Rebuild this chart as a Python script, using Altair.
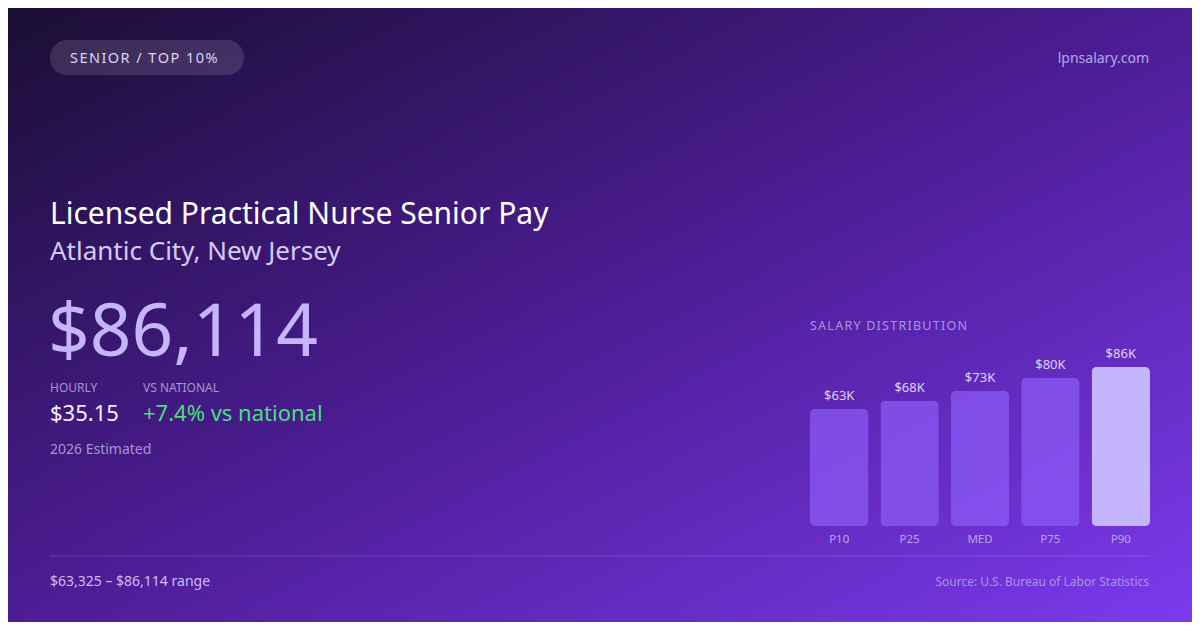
import altair as alt
import pandas as pd

# ---- data ----
labels = ["P10", "P25", "MED", "P75", "P90"]
salaries = [63325, 67800, 73100, 80100, 86114]
value_text = ["$63K", "$68K", "$73K", "$80K", "$86K"]

badge = "SENIOR / TOP 10%"
site = "lpnsalary.com"
title = "Licensed Practical Nurse Senior Pay"
subtitle = "Atlantic City, New Jersey"
headline = "$86,114"
hourly_label = "HOURLY"
hourly_value = "$35.15"
nat_label = "VS NATIONAL"
nat_value = "+7.4% vs national"
estimate = "2026 Estimated"
dist_title = "SALARY DISTRIBUTION"
range_text = "$63,325 \u2013 $86,114 range"
source_text = "Source: U.S. Bureau of Labor Statistics"

df = pd.DataFrame({"label": labels, "salary": salaries, "vt": value_text})
one = pd.DataFrame({"a": [0]})

W, H = 1184, 614
OFF = 8
FONT = "Noto Sans"
HS = "\u200a"


def X(v):
    return v - OFF


def Y(v):
    return v - OFF


def spaced(s):
    return HS.join(list(s))


def txt(s, x, y, size, color, align="left", weight="normal", opacity=1.0):
    return alt.Chart(one).mark_text(
        text=s, align=align, baseline="alphabetic", font=FONT,
        fontSize=size, color=color, fontWeight=weight, opacity=opacity
    ).encode(x=alt.value(X(x)), y=alt.value(Y(y)))


bg = alt.Chart(one).mark_rect(
    color=alt.Gradient(
        gradient="linear",
        stops=[
            alt.GradientStop(color="#1a0e34", offset=0),
            alt.GradientStop(color="#4c1d95", offset=0.5),
            alt.GradientStop(color="#7c3aed", offset=1),
        ],
        x1=0, y1=0, x2=1, y2=1,
    )
).encode(x=alt.value(0), x2=alt.value(W), y=alt.value(0), y2=alt.value(H))

pill = alt.Chart(one).mark_rect(
    cornerRadius=17, color="#ffffff", opacity=0.13
).encode(x=alt.value(X(50)), x2=alt.value(X(244)), y=alt.value(Y(40)), y2=alt.value(Y(75)))

divider = alt.Chart(one).mark_rule(color="#ffffff", opacity=0.15, strokeWidth=1).encode(
    x=alt.value(X(50)), x2=alt.value(X(1150)), y=alt.value(Y(556))
)

xscale = alt.Scale(range=[X(810), X(1150)], paddingInner=0.17, paddingOuter=0)
yscale = alt.Scale(domain=[0, 86114], range=[Y(526), Y(367)], nice=False, zero=True)

bars = alt.Chart(df).mark_bar(cornerRadius=5).encode(
    x=alt.X("label:N", sort=labels, axis=None, scale=xscale),
    y=alt.Y("salary:Q", axis=None, scale=yscale),
    color=alt.condition(alt.datum.label == "P90", alt.value("#c4b5fd"), alt.value("#8b5cf6")),
    opacity=alt.condition(alt.datum.label == "P90", alt.value(1.0), alt.value(0.72)),
)

bar_vals = alt.Chart(df).mark_text(
    baseline="alphabetic", dy=-9, font=FONT, fontSize=13, color="#ddd2fa"
).encode(
    x=alt.X("label:N", sort=labels, axis=None, scale=xscale),
    y=alt.Y("salary:Q", axis=None, scale=yscale),
    text="vt:N",
)

bar_cats = alt.Chart(df).mark_text(
    baseline="alphabetic", font=FONT, fontSize=11.5, color="#b9a6ea"
).encode(
    x=alt.X("label:N", sort=labels, axis=None, scale=xscale),
    y=alt.value(Y(543)),
    text="label:N",
)

layers = [
    bg,
    pill,
    txt(spaced(badge), 70, 63, 14.5, "#ddd3f5"),
    txt(site, 1149, 63, 14, "#b8a6e6", align="right"),
    txt(title, 50, 224, 30, "#ffffff"),
    txt(subtitle, 50, 260, 26, "#d6cbf2"),
    txt(headline, 48, 356, 73, "#c4b5fd"),
    txt(hourly_label, 50, 392, 12, "#a796d6"),
    txt(nat_label, 143, 392, 12, "#a796d6"),
    txt(hourly_value, 50, 421, 22, "#f3efff"),
    txt(nat_value, 143, 421, 22, "#4ade80"),
    txt(estimate, 50, 454, 14, "#a796d6"),
    txt(spaced(dist_title), 810, 330, 12.5, "#a995e0"),
    bars,
    bar_vals,
    bar_cats,
    divider,
    txt(range_text, 50, 586, 14, "#cbbdf0"),
    txt(source_text, 1149, 586, 12, "#a995e0", align="right"),
]

chart = alt.layer(*layers).properties(
    width=W, height=H, padding=0,
    autosize=alt.AutoSizeParams(type="none"),
    background="#2a1458",
).configure_view(stroke=None)

chart.save("out.html", embed_options={"renderer": "svg", "actions": False})
